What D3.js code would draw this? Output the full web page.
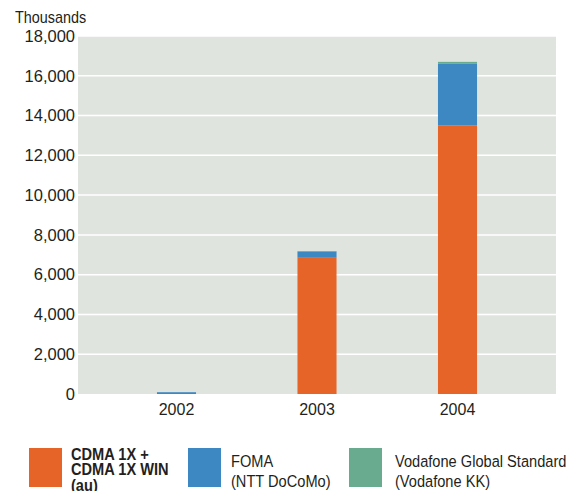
<!DOCTYPE html>
<html><head><meta charset="utf-8">
<script src="https://cdn.jsdelivr.net/npm/d3@7"></script>
<style>
body{margin:0;background:#fff;}
svg{display:block;}
</style></head>
<body><svg id="chart" width="570" height="491"></svg>
<script>
const years = ["2002","2003","2004"];
const cdma = [0, 6850, 13500];
const foma = [90, 300, 3100];
const vodafone = [0, 40, 100];
const seriesNames = ["CDMA 1X + CDMA 1X WIN (au)","FOMA (NTT DoCoMo)","Vodafone Global Standard (Vodafone KK)"];
const legendLines = [["CDMA 1X +","CDMA 1X WIN","(au)"],["FOMA","(NTT DoCoMo)"],["Vodafone Global Standard","(Vodafone KK)"]];
const colors = ["#e66428","#3d88c2","#68ab8f"];
const yTicks = [0,2000,4000,6000,8000,10000,12000,14000,16000,18000];

const svg = d3.select("#chart");
const L=78, R=556, T=36, B=394;
const x = d3.scaleBand().domain(years).range([L,R]).paddingInner(0.722).paddingOuter(0.562);
const y = d3.scaleLinear().domain([0,18000]).range([B,T]);

svg.append("rect").attr("x",L).attr("y",T).attr("width",R-L).attr("height",B-T).attr("fill","#e0e4df");

svg.append("g").selectAll("line").data(yTicks.filter(d=>d>0)).join("line")
  .attr("x1",L).attr("x2",R).attr("y1",d=>y(d)).attr("y2",d=>y(d))
  .attr("stroke","#fff").attr("stroke-width",1.5);

const table = years.map((yr,i)=>({year:yr, s0:cdma[i], s1:foma[i], s2:vodafone[i]}));
const stack = d3.stack().keys(["s0","s1","s2"])(table);
svg.append("g").selectAll("g").data(stack).join("g").attr("fill",(d,i)=>colors[i])
  .selectAll("rect").data(d=>d).join("rect")
  .attr("x",d=>x(d.data.year)).attr("width",x.bandwidth())
  .attr("y",d=>y(d[1])).attr("height",d=>y(d[0])-y(d[1]));

const yAxis = d3.axisLeft(y).tickValues(yTicks).tickSize(0).tickPadding(3).tickFormat(d3.format(","));
const ga = svg.append("g").attr("transform",`translate(${L},0)`).call(yAxis);
ga.select(".domain").remove();
ga.selectAll("text").attr("font-family","'Liberation Sans', Arial, sans-serif").attr("font-size",16.5).attr("fill","#231f20");

const xAxis = d3.axisBottom(x).tickSize(0).tickPadding(10);
const gx = svg.append("g").attr("transform",`translate(0,${B})`).call(xAxis);
gx.select(".domain").remove();
gx.selectAll("text").attr("font-family","'Liberation Sans', Arial, sans-serif").attr("font-size",16).attr("fill","#231f20");

svg.append("text").attr("transform","translate(15,23) scale(0.9,1)").text("Thousands")
  .attr("font-family","'Liberation Sans',sans-serif").attr("font-size",16).attr("fill","#231f20");

const legX = [29,188,349];
const txtX = [71,231,395];
const leg = svg.append("g");
seriesNames.forEach((n,i)=>{
  leg.append("rect").attr("x",legX[i]).attr("y",448).attr("width",33).attr("height",39).attr("fill",colors[i]);
  const t = leg.append("text").attr("transform",`translate(${txtX[i]},0) scale(0.86,1)`)
    .attr("font-family","'Liberation Sans',Arial,sans-serif")
    .attr("font-size",17).attr("fill","#231f20").attr("font-weight", i===0?"bold":"normal");
  const lines = legendLines[i];
  const base = i===0 ? 460 : 467;
  const step = i===0 ? 15.5 : 20;
  lines.forEach((ln,j)=>{
    t.append("tspan").attr("x",0).attr("y",base+j*step).text(ln);
  });
});
</script></body></html>
